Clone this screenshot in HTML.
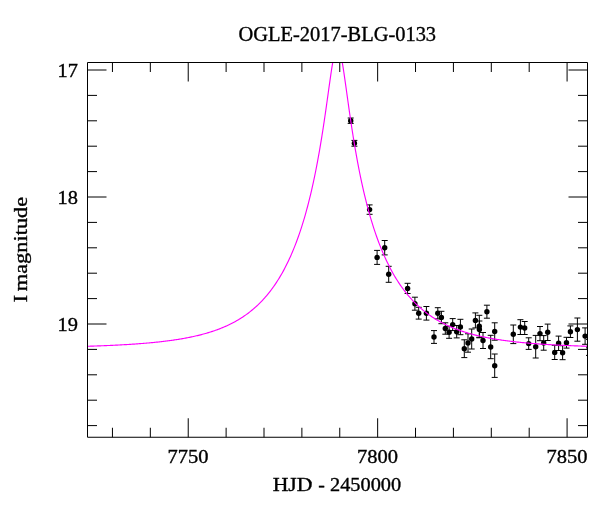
<!DOCTYPE html>
<html><head><meta charset="utf-8"><title>OGLE-2017-BLG-0133</title>
<style>
html,body{margin:0;padding:0;background:#fff;}
svg{display:block;will-change:transform;}
text{font-family:"Liberation Serif", serif;font-size:19.8px;fill:#000;stroke:#000;stroke-width:0.35px;}
</style></head><body>
<svg width="600" height="512" viewBox="0 0 600 512">
<rect width="600" height="512" fill="#fff"/>
<defs><clipPath id="c"><rect x="87.5" y="62.5" width="500.0" height="374.75"/></clipPath></defs>
<g clip-path="url(#c)">
<g stroke="#000" stroke-width="1" fill="none">
<path d="M350.7 118.0V123.4M347.7 118.0h6M347.7 123.4h6M354.4 140.4V146.2M351.4 140.4h6M351.4 146.2h6M369.6 204.9V214.3M366.6 204.9h6M366.6 214.3h6M377.1 250.4V264.4M374.1 250.4h6M374.1 264.4h6M384.7 240.5V254.9M381.7 240.5h6M381.7 254.9h6M388.7 266.3V282.3M385.7 266.3h6M385.7 282.3h6M407.6 283.3V293.5M404.6 283.3h6M404.6 293.5h6M414.9 297.2V310.2M411.9 297.2h6M411.9 310.2h6M418.7 307.3V319.1M415.7 307.3h6M415.7 319.1h6M426.4 306.5V320.1M423.4 306.5h6M423.4 320.1h6M434.0 330.6V343.4M431.0 330.6h6M431.0 343.4h6M437.8 307.7V318.9M434.8 307.7h6M434.8 318.9h6M441.4 311.3V323.7M438.4 311.3h6M438.4 323.7h6M445.3 322.8V334.2M442.3 322.8h6M442.3 334.2h6M449.1 326.3V338.3M446.1 326.3h6M446.1 338.3h6M452.7 318.6V330.6M449.7 318.6h6M449.7 330.6h6M456.7 325.5V337.9M453.7 325.5h6M453.7 337.9h6M460.4 319.3V334.7M457.4 319.3h6M457.4 334.7h6M464.3 339.8V357.6M461.3 339.8h6M461.3 357.6h6M468.0 333.8V352.2M465.0 333.8h6M465.0 352.2h6M471.7 329.0V349.0M468.7 329.0h6M468.7 349.0h6M475.4 312.9V327.9M472.4 312.9h6M472.4 327.9h6M479.3 315.3V337.3M476.3 315.3h6M476.3 337.3h6M479.4 321.0V337.8M476.4 321.0h6M476.4 337.8h6M483.0 332.5V348.5M480.0 332.5h6M480.0 348.5h6M486.9 305.2V318.2M483.9 305.2h6M483.9 318.2h6M490.7 335.3V358.7M487.7 335.3h6M487.7 358.7h6M494.7 322.8V340.2M491.7 322.8h6M491.7 340.2h6M494.7 354.0V377.4M491.7 354.0h6M491.7 377.4h6M513.3 325.0V343.6M510.3 325.0h6M510.3 343.6h6M520.4 319.7V334.5M517.4 319.7h6M517.4 334.5h6M524.7 321.5V334.5M521.7 321.5h6M521.7 334.5h6M528.7 337.8V349.4M525.7 337.8h6M525.7 349.4h6M535.7 335.4V358.0M532.7 335.4h6M532.7 358.0h6M540.0 326.5V340.7M537.0 326.5h6M537.0 340.7h6M543.7 335.6V350.2M540.7 335.6h6M540.7 350.2h6M547.7 324.1V340.5M544.7 324.1h6M544.7 340.5h6M554.7 345.3V359.5M551.7 345.3h6M551.7 359.5h6M558.6 336.1V350.5M555.6 336.1h6M555.6 350.5h6M562.6 345.7V359.7M559.6 345.7h6M559.6 359.7h6M566.5 337.3V348.1M563.5 337.3h6M563.5 348.1h6M570.4 325.9V337.5M567.4 325.9h6M567.4 337.5h6M577.4 318.0V341.2M574.4 318.0h6M574.4 341.2h6M585.1 327.9V344.3M582.1 327.9h6M582.1 344.3h6M589.0 339.4V355.4M586.0 339.4h6M586.0 355.4h6"/></g>
<g fill="#000">
<circle cx="350.7" cy="120.7" r="2.7"/>
<circle cx="354.4" cy="143.3" r="2.7"/>
<circle cx="369.6" cy="209.6" r="2.7"/>
<circle cx="377.1" cy="257.4" r="2.7"/>
<circle cx="384.7" cy="247.7" r="2.7"/>
<circle cx="388.7" cy="274.3" r="2.7"/>
<circle cx="407.6" cy="288.4" r="2.7"/>
<circle cx="414.9" cy="303.7" r="2.7"/>
<circle cx="418.7" cy="313.2" r="2.7"/>
<circle cx="426.4" cy="313.3" r="2.7"/>
<circle cx="434.0" cy="337.0" r="2.7"/>
<circle cx="437.8" cy="313.3" r="2.7"/>
<circle cx="441.4" cy="317.5" r="2.7"/>
<circle cx="445.3" cy="328.5" r="2.7"/>
<circle cx="449.1" cy="332.3" r="2.7"/>
<circle cx="452.7" cy="324.6" r="2.7"/>
<circle cx="456.7" cy="331.7" r="2.7"/>
<circle cx="460.4" cy="327.0" r="2.7"/>
<circle cx="464.3" cy="348.7" r="2.7"/>
<circle cx="468.0" cy="343.0" r="2.7"/>
<circle cx="471.7" cy="339.0" r="2.7"/>
<circle cx="475.4" cy="320.4" r="2.7"/>
<circle cx="479.3" cy="326.3" r="2.7"/>
<circle cx="479.4" cy="329.4" r="2.7"/>
<circle cx="483.0" cy="340.5" r="2.7"/>
<circle cx="486.9" cy="311.7" r="2.7"/>
<circle cx="490.7" cy="347.0" r="2.7"/>
<circle cx="494.7" cy="331.5" r="2.7"/>
<circle cx="494.7" cy="365.7" r="2.7"/>
<circle cx="513.3" cy="334.3" r="2.7"/>
<circle cx="520.4" cy="327.1" r="2.7"/>
<circle cx="524.7" cy="328.0" r="2.7"/>
<circle cx="528.7" cy="343.6" r="2.7"/>
<circle cx="535.7" cy="346.7" r="2.7"/>
<circle cx="540.0" cy="333.6" r="2.7"/>
<circle cx="543.7" cy="342.9" r="2.7"/>
<circle cx="547.7" cy="332.3" r="2.7"/>
<circle cx="554.7" cy="352.4" r="2.7"/>
<circle cx="558.6" cy="343.3" r="2.7"/>
<circle cx="562.6" cy="352.7" r="2.7"/>
<circle cx="566.5" cy="342.7" r="2.7"/>
<circle cx="570.4" cy="331.7" r="2.7"/>
<circle cx="577.4" cy="329.6" r="2.7"/>
<circle cx="585.1" cy="336.1" r="2.7"/>
<circle cx="589.0" cy="347.4" r="2.7"/>
</g>
<polyline fill="none" stroke="#ff00ff" stroke-width="1.15" stroke-linejoin="round" points="87.50,346.27 88.50,346.24 89.50,346.21 90.50,346.18 91.50,346.15 92.50,346.11 93.50,346.08 94.50,346.04 95.50,346.01 96.50,345.97 97.50,345.94 98.50,345.90 99.50,345.86 100.50,345.82 101.50,345.79 102.50,345.75 103.50,345.71 104.50,345.67 105.50,345.62 106.50,345.58 107.50,345.54 108.50,345.50 109.50,345.45 110.50,345.41 111.50,345.36 112.50,345.31 113.50,345.27 114.50,345.22 115.50,345.17 116.50,345.12 117.50,345.07 118.50,345.02 119.50,344.97 120.50,344.91 121.50,344.86 122.50,344.80 123.50,344.75 124.50,344.69 125.50,344.63 126.50,344.57 127.50,344.51 128.50,344.45 129.50,344.39 130.50,344.32 131.50,344.26 132.50,344.19 133.50,344.12 134.50,344.06 135.50,343.99 136.50,343.91 137.50,343.84 138.50,343.77 139.50,343.69 140.50,343.62 141.50,343.54 142.50,343.46 143.50,343.38 144.50,343.30 145.50,343.21 146.50,343.13 147.50,343.04 148.50,342.95 149.50,342.86 150.50,342.77 151.50,342.68 152.50,342.58 153.50,342.48 154.50,342.38 155.50,342.28 156.50,342.18 157.50,342.07 158.50,341.97 159.50,341.86 160.50,341.74 161.50,341.63 162.50,341.52 163.50,341.40 164.50,341.28 165.50,341.15 166.50,341.03 167.50,340.90 168.50,340.77 169.50,340.64 170.50,340.50 171.50,340.36 172.50,340.22 173.50,340.08 174.50,339.93 175.50,339.78 176.50,339.63 177.50,339.47 178.50,339.31 179.50,339.15 180.50,338.98 181.50,338.81 182.50,338.64 183.50,338.47 184.50,338.29 185.50,338.10 186.50,337.91 187.50,337.72 188.50,337.53 189.50,337.33 190.50,337.12 191.50,336.92 192.50,336.70 193.50,336.49 194.50,336.26 195.50,336.04 196.50,335.81 197.50,335.57 198.50,335.33 199.50,335.08 200.50,334.83 201.50,334.57 202.50,334.31 203.50,334.04 204.50,333.77 205.50,333.49 206.50,333.20 207.50,332.91 208.50,332.61 209.50,332.30 210.50,331.99 211.50,331.67 212.50,331.34 213.50,331.01 214.50,330.67 215.50,330.32 216.50,329.96 217.50,329.59 218.50,329.22 219.50,328.84 220.50,328.45 221.50,328.05 222.50,327.64 223.50,327.22 224.50,326.79 225.50,326.36 226.50,325.91 227.50,325.45 228.50,324.98 229.50,324.51 230.50,324.02 231.50,323.51 232.50,323.00 233.50,322.48 234.50,321.94 235.50,321.39 236.50,320.82 237.50,320.25 238.50,319.66 239.50,319.05 240.50,318.43 241.50,317.80 242.50,317.15 243.50,316.49 244.50,315.81 245.50,315.11 246.50,314.40 247.50,313.67 248.50,312.92 249.50,312.16 250.50,311.37 251.50,310.57 252.50,309.74 253.50,308.90 254.50,308.03 255.50,307.15 256.50,306.24 257.50,305.31 258.50,304.36 259.50,303.38 260.50,302.38 261.50,301.35 262.50,300.29 263.50,299.21 264.50,298.11 265.50,296.97 266.50,295.81 267.50,294.61 268.50,293.39 269.50,292.13 270.50,290.84 271.50,289.52 272.50,288.16 273.50,286.76 274.50,285.33 275.50,283.87 276.50,282.36 277.50,280.81 278.50,279.22 279.50,277.59 280.50,275.92 281.50,274.20 282.50,272.43 283.50,270.61 284.50,268.74 285.50,266.82 286.50,264.85 287.50,262.82 288.50,260.74 289.50,258.59 290.50,256.39 291.50,254.12 292.50,251.78 293.50,249.37 294.50,246.90 295.50,244.35 296.50,241.72 297.50,239.01 298.50,236.22 299.50,233.34 300.50,230.38 301.50,227.32 302.50,224.16 303.50,220.90 304.50,217.54 305.50,214.06 306.50,210.47 307.50,206.76 308.50,202.92 309.50,198.95 310.50,194.84 311.50,190.59 312.50,186.18 313.50,181.62 314.50,176.89 315.50,171.99 316.50,166.92 317.50,161.65 318.50,156.19 319.50,150.54 320.00,147.63 320.25,146.16 320.50,144.68 320.75,143.18 321.00,141.67 321.25,140.15 321.50,138.61 321.75,137.06 322.00,135.50 322.25,133.92 322.50,132.33 322.75,130.73 323.00,129.12 323.25,127.49 323.50,125.85 323.75,124.20 324.00,122.54 324.25,120.86 324.50,119.18 324.75,117.48 325.00,115.77 325.25,114.05 325.50,112.32 325.75,110.58 326.00,108.83 326.25,107.07 326.50,105.31 326.75,103.53 327.00,101.75 327.25,99.97 327.50,98.18 327.75,96.39 328.00,94.59 328.25,92.79 328.50,91.00 328.75,89.20 329.00,87.41 329.25,85.62 329.50,83.84 329.75,82.07 330.00,80.30 330.25,78.55 330.50,76.81 330.75,75.10 331.00,73.40 331.25,71.72 331.50,70.07 331.75,68.44 332.00,66.85 332.25,65.29 332.50,63.77 332.75,62.30 333.00,60.86 333.25,59.48 333.50,58.15 333.75,56.87 334.00,55.66 334.25,54.51 334.50,53.42 334.75,52.41 335.00,51.47 335.25,50.61 335.50,49.84 335.75,49.14 336.00,48.53 336.25,48.01 336.50,47.59 336.75,47.25 337.00,47.01 337.25,46.87 337.50,46.82 337.75,46.87 338.00,47.01 338.25,47.25 338.50,47.59 338.75,48.01 339.00,48.53 339.25,49.14 339.50,49.84 339.75,50.61 340.00,51.47 340.25,52.41 340.50,53.42 340.75,54.51 341.00,55.66 341.25,56.87 341.50,58.15 341.75,59.48 342.00,60.86 342.25,62.30 342.50,63.77 342.75,65.29 343.00,66.85 343.25,68.44 343.50,70.07 343.75,71.72 344.00,73.40 344.25,75.10 344.50,76.81 344.75,78.55 345.00,80.30 345.25,82.07 345.50,83.84 345.75,85.62 346.00,87.41 346.25,89.20 346.50,91.00 346.75,92.79 347.00,94.59 347.25,96.39 347.50,98.18 347.75,99.97 348.00,101.75 348.25,103.53 348.50,105.31 348.75,107.07 349.00,108.83 349.25,110.58 349.50,112.32 349.75,114.05 350.00,115.77 350.25,117.48 350.50,119.18 350.75,120.86 351.00,122.54 351.25,124.20 351.50,125.85 351.75,127.49 352.00,129.12 352.25,130.73 352.50,132.33 352.75,133.92 353.00,135.50 353.25,137.06 353.50,138.61 353.75,140.15 354.00,141.67 354.25,143.18 354.50,144.68 354.75,146.16 355.00,147.63 355.25,149.09 355.50,150.54 355.75,151.97 356.50,156.19 357.50,161.65 358.50,166.92 359.50,171.99 360.50,176.89 361.50,181.62 362.50,186.18 363.50,190.59 364.50,194.84 365.50,198.95 366.50,202.92 367.50,206.76 368.50,210.47 369.50,214.06 370.50,217.54 371.50,220.90 372.50,224.16 373.50,227.32 374.50,230.38 375.50,233.34 376.50,236.22 377.50,239.01 378.50,241.72 379.50,244.35 380.50,246.90 381.50,249.37 382.50,251.78 383.50,254.12 384.50,256.39 385.50,258.59 386.50,260.74 387.50,262.82 388.50,264.85 389.50,266.82 390.50,268.74 391.50,270.61 392.50,272.43 393.50,274.20 394.50,275.92 395.50,277.59 396.50,279.22 397.50,280.81 398.50,282.36 399.50,283.87 400.50,285.33 401.50,286.76 402.50,288.16 403.50,289.52 404.50,290.84 405.50,292.13 406.50,293.39 407.50,294.61 408.50,295.81 409.50,296.97 410.50,298.11 411.50,299.21 412.50,300.29 413.50,301.35 414.50,302.38 415.50,303.38 416.50,304.36 417.50,305.31 418.50,306.24 419.50,307.15 420.50,308.03 421.50,308.90 422.50,309.74 423.50,310.57 424.50,311.37 425.50,312.16 426.50,312.92 427.50,313.67 428.50,314.40 429.50,315.11 430.50,315.81 431.50,316.49 432.50,317.15 433.50,317.80 434.50,318.43 435.50,319.05 436.50,319.66 437.50,320.25 438.50,320.82 439.50,321.39 440.50,321.94 441.50,322.48 442.50,323.00 443.50,323.51 444.50,324.02 445.50,324.51 446.50,324.98 447.50,325.45 448.50,325.91 449.50,326.36 450.50,326.79 451.50,327.22 452.50,327.64 453.50,328.05 454.50,328.45 455.50,328.84 456.50,329.22 457.50,329.59 458.50,329.96 459.50,330.32 460.50,330.67 461.50,331.01 462.50,331.34 463.50,331.67 464.50,331.99 465.50,332.30 466.50,332.61 467.50,332.91 468.50,333.20 469.50,333.49 470.50,333.77 471.50,334.04 472.50,334.31 473.50,334.57 474.50,334.83 475.50,335.08 476.50,335.33 477.50,335.57 478.50,335.81 479.50,336.04 480.50,336.26 481.50,336.49 482.50,336.70 483.50,336.92 484.50,337.12 485.50,337.33 486.50,337.53 487.50,337.72 488.50,337.91 489.50,338.10 490.50,338.29 491.50,338.47 492.50,338.64 493.50,338.81 494.50,338.98 495.50,339.15 496.50,339.31 497.50,339.47 498.50,339.63 499.50,339.78 500.50,339.93 501.50,340.08 502.50,340.22 503.50,340.36 504.50,340.50 505.50,340.64 506.50,340.77 507.50,340.90 508.50,341.03 509.50,341.15 510.50,341.28 511.50,341.40 512.50,341.52 513.50,341.63 514.50,341.74 515.50,341.86 516.50,341.97 517.50,342.07 518.50,342.18 519.50,342.28 520.50,342.38 521.50,342.48 522.50,342.58 523.50,342.68 524.50,342.77 525.50,342.86 526.50,342.95 527.50,343.04 528.50,343.13 529.50,343.21 530.50,343.30 531.50,343.38 532.50,343.46 533.50,343.54 534.50,343.62 535.50,343.69 536.50,343.77 537.50,343.84 538.50,343.91 539.50,343.99 540.50,344.06 541.50,344.12 542.50,344.19 543.50,344.26 544.50,344.32 545.50,344.39 546.50,344.45 547.50,344.51 548.50,344.57 549.50,344.63 550.50,344.69 551.50,344.75 552.50,344.80 553.50,344.86 554.50,344.91 555.50,344.97 556.50,345.02 557.50,345.07 558.50,345.12 559.50,345.17 560.50,345.22 561.50,345.27 562.50,345.31 563.50,345.36 564.50,345.41 565.50,345.45 566.50,345.50 567.50,345.54 568.50,345.58 569.50,345.62 570.50,345.67 571.50,345.71 572.50,345.75 573.50,345.79 574.50,345.82 575.50,345.86 576.50,345.90 577.50,345.94 578.50,345.97 579.50,346.01 580.50,346.04 581.50,346.08 582.50,346.11 583.50,346.15 584.50,346.18 585.50,346.21 586.50,346.24 587.50,346.27"/>
</g>
<path fill="none" stroke="#000" stroke-width="1" d="M87.5 62.5H587.5V437.25H87.5ZM112.45 437.25v-9.5M112.45 62.5v9.5M150.34 437.25v-9.5M150.34 62.5v9.5M188.22 437.25v-19M188.22 62.5v19M226.11 437.25v-9.5M226.11 62.5v9.5M264.00 437.25v-9.5M264.00 62.5v9.5M301.88 437.25v-9.5M301.88 62.5v9.5M339.76 437.25v-9.5M339.76 62.5v9.5M377.65 437.25v-19M377.65 62.5v19M415.53 437.25v-9.5M415.53 62.5v9.5M453.42 437.25v-9.5M453.42 62.5v9.5M491.30 437.25v-9.5M491.30 62.5v9.5M529.19 437.25v-9.5M529.19 62.5v9.5M567.08 437.25v-19M567.08 62.5v19M87.5 70.00h19M587.5 70.00h-19M87.5 95.40h9.5M587.5 95.40h-9.5M87.5 120.80h9.5M587.5 120.80h-9.5M87.5 146.20h9.5M587.5 146.20h-9.5M87.5 171.60h9.5M587.5 171.60h-9.5M87.5 197.00h19M587.5 197.00h-19M87.5 222.40h9.5M587.5 222.40h-9.5M87.5 247.80h9.5M587.5 247.80h-9.5M87.5 273.20h9.5M587.5 273.20h-9.5M87.5 298.60h9.5M587.5 298.60h-9.5M87.5 324.00h19M587.5 324.00h-19M87.5 349.40h9.5M587.5 349.40h-9.5M87.5 374.80h9.5M587.5 374.80h-9.5M87.5 400.20h9.5M587.5 400.20h-9.5M87.5 425.60h9.5M587.5 425.60h-9.5"/>
<text x="238.6" y="40.6" text-anchor="start" textLength="197.5" lengthAdjust="spacingAndGlyphs" style="font-size:20.3px">OGLE-2017-BLG-0133</text>
<text x="57.6" y="76.5" text-anchor="start" textLength="20.4" lengthAdjust="spacingAndGlyphs">17</text>
<text x="57.6" y="203.5" text-anchor="start" textLength="20.4" lengthAdjust="spacingAndGlyphs">18</text>
<text x="57.6" y="330.5" text-anchor="start" textLength="20.4" lengthAdjust="spacingAndGlyphs">19</text>
<text x="167.52499999999998" y="462.9" text-anchor="start" textLength="41.0" lengthAdjust="spacingAndGlyphs">7750</text>
<text x="356.95" y="462.9" text-anchor="start" textLength="41.0" lengthAdjust="spacingAndGlyphs">7800</text>
<text x="546.375" y="462.9" text-anchor="start" textLength="41.0" lengthAdjust="spacingAndGlyphs">7850</text>
<text y="491.4"><tspan x="272.7" textLength="39.8" lengthAdjust="spacingAndGlyphs">HJD</tspan><tspan x="313.2" textLength="16.6" lengthAdjust="spacing"> - </tspan><tspan x="330.0" textLength="71.2" lengthAdjust="spacingAndGlyphs">2450000</tspan></text>
<text transform="translate(26.8 302.5) rotate(-90)"><tspan x="0" y="0" textLength="7.6" lengthAdjust="spacingAndGlyphs">I</tspan><tspan x="7.6" y="0"> </tspan><tspan x="11.3" y="0" textLength="94.4" lengthAdjust="spacingAndGlyphs">magnitude</tspan></text>
</svg></body></html>
